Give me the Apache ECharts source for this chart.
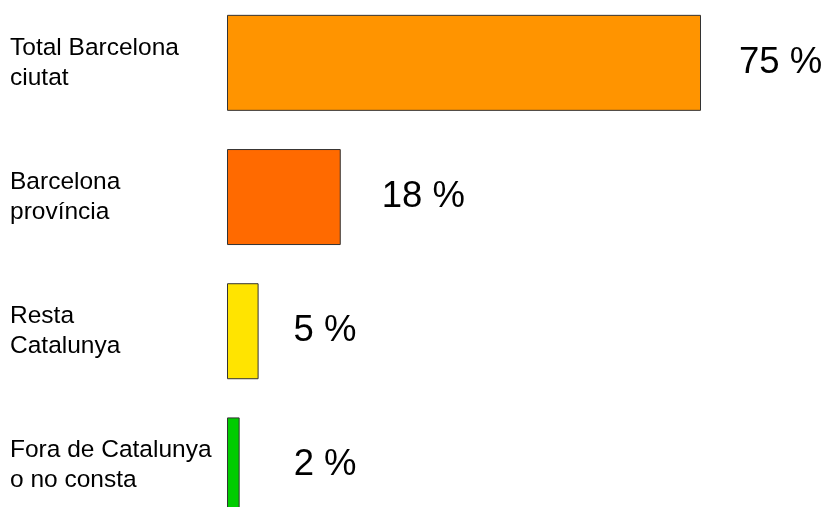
<!DOCTYPE html>
<html>
<head>
<meta charset="utf-8">
<style>html,body{margin:0;padding:0;background:#fff}#c{width:826px;height:507px}</style>
<script src="https://cdn.jsdelivr.net/npm/echarts@6/dist/echarts.min.js"></script>
</head>
<body>
<div id="c"></div>
<script>
const categories = ['Total Barcelona\nciutat', 'Barcelona\nprovíncia', 'Resta\nCatalunya', 'Fora de Catalunya\no no consta'];
const values = [75, 18, 5, 2];
const colors = ['#FF9400', '#FF6A00', '#FFE400', '#00CC00'];
const labelGaps = [38, 41, 35, 54];

const chart = echarts.init(document.getElementById('c'));
chart.setOption({
  animation: false,
  grid: { left: 227, right: 125, top: -4.25, bottom: -25.5, outerBoundsMode: 'none', containLabel: false },
  xAxis: { type: 'value', min: 0, max: 75, show: false },
  yAxis: {
    type: 'category', data: categories, inverse: true,
    axisLine: { show: false }, axisTick: { show: false },
    axisLabel: {
      align: 'left', margin: 217, fontFamily: 'Liberation Sans, Arial, sans-serif',
      fontSize: 24.5, lineHeight: 30, color: '#000'
    }
  },
  series: [{
    type: 'bar',
    barWidth: 96,
    data: values.map((v, i) => ({
      value: v,
      itemStyle: { color: colors[i], borderColor: '#333', borderWidth: 1 },
      label: { distance: labelGaps[i] }
    })),
    label: {
      show: true, position: 'right', formatter: '{c} %',
      fontFamily: 'Liberation Sans, Arial, sans-serif', fontSize: 36.5, color: '#000'
    }
  }]
});
</script>
</body>
</html>
